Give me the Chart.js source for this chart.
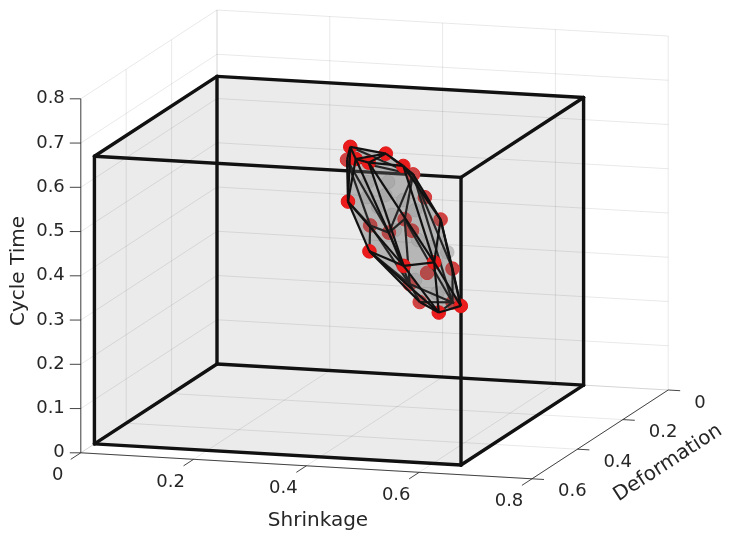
<!DOCTYPE html>
<html>
<head>
<meta charset="utf-8">
<script src="https://cdn.jsdelivr.net/npm/chart.js@4.4.1/dist/chart.umd.min.js"></script>
<style>
  html, body { margin: 0; padding: 0; background: #fff; }
  canvas { display: block; }
</style>
</head>
<body>
<canvas id="myChart" width="730" height="541"></canvas>
<script>
// axis ticks
var xTicks = [0, 0.2, 0.4, 0.6, 0.8];
var yTicks = [0, 0.2, 0.4, 0.6];
var zTicks = [0, 0.1, 0.2, 0.3, 0.4, 0.5, 0.6, 0.7, 0.8];
var axisMax = [0.8, 0.6, 0.8];
// design space box
var boxMax = [0.65, 0.54, 0.65];

// hull points (red)
var shrinkage   = [0.349, 0.416, 0.407, 0.434, 0.451, 0.357, 0.387, 0.500, 0.542, 0.518, 0.545, 0.303,
                   0.404, 0.445, 0.481, 0.385, 0.410, 0.328, 0.353, 0.433, 0.486, 0.394, 0.432, 0.482];
var deformation = [0.28, 0.29, 0.40, 0.41, 0.30, 0.31, 0.29, 0.42, 0.39, 0.31, 0.28, 0.18,
                   0.14, 0.19, 0.21, 0.13, 0.16, 0.14, 0.12, 0.15, 0.17, 0.13, 0.18, 0.16];
var cycleTime   = [0.610, 0.603, 0.627, 0.624, 0.581, 0.497, 0.380, 0.399, 0.400, 0.258, 0.265, 0.544,
                   0.505, 0.473, 0.432, 0.399, 0.385, 0.384, 0.363, 0.288, 0.308, 0.253, 0.232, 0.228];

// points inside the hull (grey)
var innerShrinkage   = [0.375, 0.394, 0.407, 0.439, 0.419, 0.460, 0.376, 0.412, 0.490, 0.517, 0.465, 0.499, 0.517, 0.460, 0.424];
var innerDeformation = [0.27, 0.27, 0.27, 0.27, 0.27, 0.27, 0.27, 0.27, 0.27, 0.27, 0.27, 0.27, 0.27, 0.27, 0.27];
var innerCycleTime   = [0.495, 0.474, 0.502, 0.493, 0.458, 0.472, 0.529, 0.532, 0.391, 0.381, 0.405, 0.287, 0.302, 0.314, 0.424];

// orthographic view (pixels per unit)
var view = { ox: 217, oy: 364, ex: [564, 32.5], ey: [-227, 148], ez: [0, -442.5] };

function project(p) {
  return {
    x: view.ox + view.ex[0] * p[0] + view.ey[0] * p[1] + view.ez[0] * p[2],
    y: view.oy + view.ex[1] * p[0] + view.ey[1] * p[1] + view.ez[1] * p[2]
  };
}
function sub(a, b) { return [a[0] - b[0], a[1] - b[1], a[2] - b[2]]; }
function dot(a, b) { return a[0] * b[0] + a[1] * b[1] + a[2] * b[2]; }
function cross(a, b) { return [a[1] * b[2] - a[2] * b[1], a[2] * b[0] - a[0] * b[2], a[0] * b[1] - a[1] * b[0]]; }

var pts = shrinkage.map(function (s, i) { return [s, deformation[i], cycleTime[i]]; });
var innerPts = innerShrinkage.map(function (s, i) { return [s, innerDeformation[i], innerCycleTime[i]]; });

// direction toward the viewer in data space
var toViewer = cross([view.ex[0], view.ey[0], view.ez[0]], [view.ex[1], view.ey[1], view.ez[1]]);

// brute force convex hull
var faces = [];
for (var i = 0; i < pts.length; i++) {
  for (var j = i + 1; j < pts.length; j++) {
    for (var k = j + 1; k < pts.length; k++) {
      var n = cross(sub(pts[j], pts[i]), sub(pts[k], pts[i]));
      if (dot(n, n) < 1e-14) continue;
      var pos = 0, neg = 0;
      for (var l = 0; l < pts.length; l++) {
        if (l === i || l === j || l === k) continue;
        var d = dot(n, sub(pts[l], pts[i]));
        if (d > 1e-12) pos++; else if (d < -1e-12) neg++;
      }
      if (pos === 0 || neg === 0) {
        if (pos > 0) n = [-n[0], -n[1], -n[2]];
        faces.push({ v: [i, j, k], front: dot(n, toViewer) > 0 });
      }
    }
  }
}

var edgeMap = {};
faces.forEach(function (f) {
  for (var a = 0; a < 3; a++) {
    var p = f.v[a], q = f.v[(a + 1) % 3];
    var key = Math.min(p, q) + '-' + Math.max(p, q);
    if (!edgeMap[key]) edgeMap[key] = { a: p, b: q, front: false };
    if (f.front) edgeMap[key].front = true;
  }
});
var edges = Object.keys(edgeMap).map(function (k) { return edgeMap[k]; });

// points on the far side of the hull are seen through its faces
var frontData = [], backData = [];
pts.forEach(function (p, i) { (deformation[i] >= 0.25 ? frontData : backData).push(project(p)); });
var innerData = innerPts.map(project);

var TXT = '#262626';
var FONT = '"DejaVu Sans", sans-serif';

function pix(chart, p) {
  var q = project(p);
  return [chart.scales.x.getPixelForValue(q.x), chart.scales.y.getPixelForValue(q.y)];
}
function line(ctx, a, b) {
  ctx.beginPath(); ctx.moveTo(a[0], a[1]); ctx.lineTo(b[0], b[1]); ctx.stroke();
}
function unit(v) { var m = Math.hypot(v[0], v[1]); return [v[0] / m, v[1] / m]; }

function drawAxes(chart) {
  var ctx = chart.ctx;
  var X = axisMax[0], Y = axisMax[1], Z = axisMax[2];
  var bx = boxMax[0], by = boxMax[1], bz = boxMax[2];
  ctx.save();

  // box fill
  var sil = [[0, by, bz], [0, 0, bz], [bx, 0, bz], [bx, 0, 0], [bx, by, 0], [0, by, 0]].map(function (p) { return pix(chart, p); });
  ctx.fillStyle = '#ebebeb';
  ctx.beginPath();
  sil.forEach(function (p, i) { if (i === 0) ctx.moveTo(p[0], p[1]); else ctx.lineTo(p[0], p[1]); });
  ctx.closePath(); ctx.fill();

  // grid on back planes
  ctx.strokeStyle = 'rgba(0,0,0,0.09)';
  ctx.lineWidth = 1;
  xTicks.forEach(function (t) {
    line(ctx, pix(chart, [t, 0, 0]), pix(chart, [t, 0, Z]));
    line(ctx, pix(chart, [t, 0, 0]), pix(chart, [t, Y, 0]));
  });
  yTicks.forEach(function (t) {
    line(ctx, pix(chart, [0, t, 0]), pix(chart, [0, t, Z]));
    line(ctx, pix(chart, [0, t, 0]), pix(chart, [X, t, 0]));
  });
  zTicks.forEach(function (t) {
    line(ctx, pix(chart, [0, 0, t]), pix(chart, [X, 0, t]));
    line(ctx, pix(chart, [0, 0, t]), pix(chart, [0, Y, t]));
  });

  // axis lines
  ctx.strokeStyle = 'rgba(38,38,38,0.85)';
  ctx.lineWidth = 1;
  line(ctx, pix(chart, [0, Y, 0]), pix(chart, [0, Y, Z]));
  line(ctx, pix(chart, [0, Y, 0]), pix(chart, [X, Y, 0]));
  line(ctx, pix(chart, [X, 0, 0]), pix(chart, [X, Y, 0]));

  var uy = unit(view.ey), ux = unit(view.ex);
  ctx.fillStyle = TXT;
  ctx.font = '18px ' + FONT;

  // z ticks
  ctx.textAlign = 'right'; ctx.textBaseline = 'middle';
  zTicks.forEach(function (t) {
    var p = pix(chart, [0, Y, t]);
    line(ctx, p, [p[0] - 11, p[1]]);
    ctx.fillText(String(t), p[0] - 16, p[1]);
  });
  // x ticks
  ctx.textAlign = 'center';
  xTicks.forEach(function (t) {
    var p = pix(chart, [t, Y, 0]);
    line(ctx, p, [p[0] + uy[0] * 12, p[1] + uy[1] * 12]);
    ctx.fillText(String(t), p[0] - 23, p[1] + 23);
  });
  // y ticks
  ctx.textAlign = 'left';
  yTicks.forEach(function (t) {
    var p = pix(chart, [X, t, 0]);
    line(ctx, p, [p[0] + ux[0] * 12, p[1] + ux[1] * 12]);
    ctx.fillText(String(t), p[0] + 26, p[1] + 13);
  });

  // axis titles
  ctx.font = '20px ' + FONT;
  ctx.textAlign = 'center'; ctx.textBaseline = 'middle';
  ctx.fillText('Shrinkage', 318, 521);
  ctx.save(); ctx.translate(19, 271); ctx.rotate(-Math.PI / 2); ctx.fillText('Cycle Time', 0, 0); ctx.restore();
  ctx.save(); ctx.translate(668, 463); ctx.rotate(Math.atan2(-view.ey[1], -view.ey[0])); ctx.fillText('Deformation', 0, 0); ctx.restore();

  // design box edges
  ctx.strokeStyle = '#111';
  ctx.lineWidth = 3.4;
  ctx.lineCap = 'round';
  var c = function (a, b, d) { return pix(chart, [a * bx, b * by, d * bz]); };
  [[0,0,0,1,0,0],[0,1,0,1,1,0],[0,0,1,1,0,1],[0,1,1,1,1,1],
   [0,0,0,0,1,0],[1,0,0,1,1,0],[0,0,1,0,1,1],[1,0,1,1,1,1],
   [0,0,0,0,0,1],[1,0,0,1,0,1],[0,1,0,0,1,1],[1,1,0,1,1,1]].forEach(function (e) {
    line(ctx, c(e[0], e[1], e[2]), c(e[3], e[4], e[5]));
  });
  ctx.restore();
}

function drawFaces(chart, front) {
  var ctx = chart.ctx;
  ctx.save();
  ctx.fillStyle = front ? 'rgba(100,100,100,0.24)' : 'rgba(100,100,100,0.2)';
  faces.forEach(function (f) {
    if (f.front !== front) return;
    var a = pix(chart, pts[f.v[0]]), b = pix(chart, pts[f.v[1]]), d = pix(chart, pts[f.v[2]]);
    ctx.beginPath(); ctx.moveTo(a[0], a[1]); ctx.lineTo(b[0], b[1]); ctx.lineTo(d[0], d[1]); ctx.closePath(); ctx.fill();
  });
  ctx.restore();
}

function drawEdges(chart, front) {
  var ctx = chart.ctx;
  ctx.save();
  ctx.strokeStyle = '#111';
  ctx.lineWidth = 2.2;
  edges.forEach(function (e) {
    if (e.front !== front) return;
    line(ctx, pix(chart, pts[e.a]), pix(chart, pts[e.b]));
  });
  ctx.restore();
}

var scene3d = {
  id: 'scene3d',
  beforeDatasetsDraw: function (chart) { drawAxes(chart); },
  beforeDatasetDraw: function (chart, args) {
    if (args.index === 2) drawFaces(chart, false);
    if (args.index === 0) drawFaces(chart, true);
  },
  afterDatasetDraw: function (chart, args) {
    if (args.index === 1) drawEdges(chart, false);
    if (args.index === 0) drawEdges(chart, true);
  }
};

var ctx = document.getElementById('myChart').getContext('2d');
var myChart = new Chart(ctx, {
  type: 'scatter',
  data: {
    datasets: [{
      label: 'front',
      data: frontData,
      order: 1,
      pointRadius: 6.8,
      pointHoverRadius: 6.8,
      backgroundColor: '#ec1c1c',
      borderColor: '#e01818',
      borderWidth: 1
    }, {
      label: 'back',
      data: backData,
      order: 2,
      pointRadius: 6.8,
      pointHoverRadius: 6.8,
      backgroundColor: '#cc4444',
      borderColor: '#dd3030',
      borderWidth: 1
    }, {
      label: 'inner',
      data: innerData,
      order: 3,
      pointRadius: 6.8,
      pointHoverRadius: 6.8,
      backgroundColor: 'rgba(190,190,190,0.9)',
      borderColor: 'rgba(170,170,170,0.5)',
      borderWidth: 1
    }]
  },
  options: {
    responsive: false,
    animation: false,
    events: [],
    layout: { padding: 0, autoPadding: false },
    plugins: { legend: { display: false }, tooltip: { enabled: false } },
    scales: {
      x: { type: 'linear', min: 0, max: 730, display: false },
      y: { type: 'linear', min: 0, max: 541, reverse: true, display: false }
    }
  },
  plugins: [scene3d]
});
</script>
</body>
</html>
